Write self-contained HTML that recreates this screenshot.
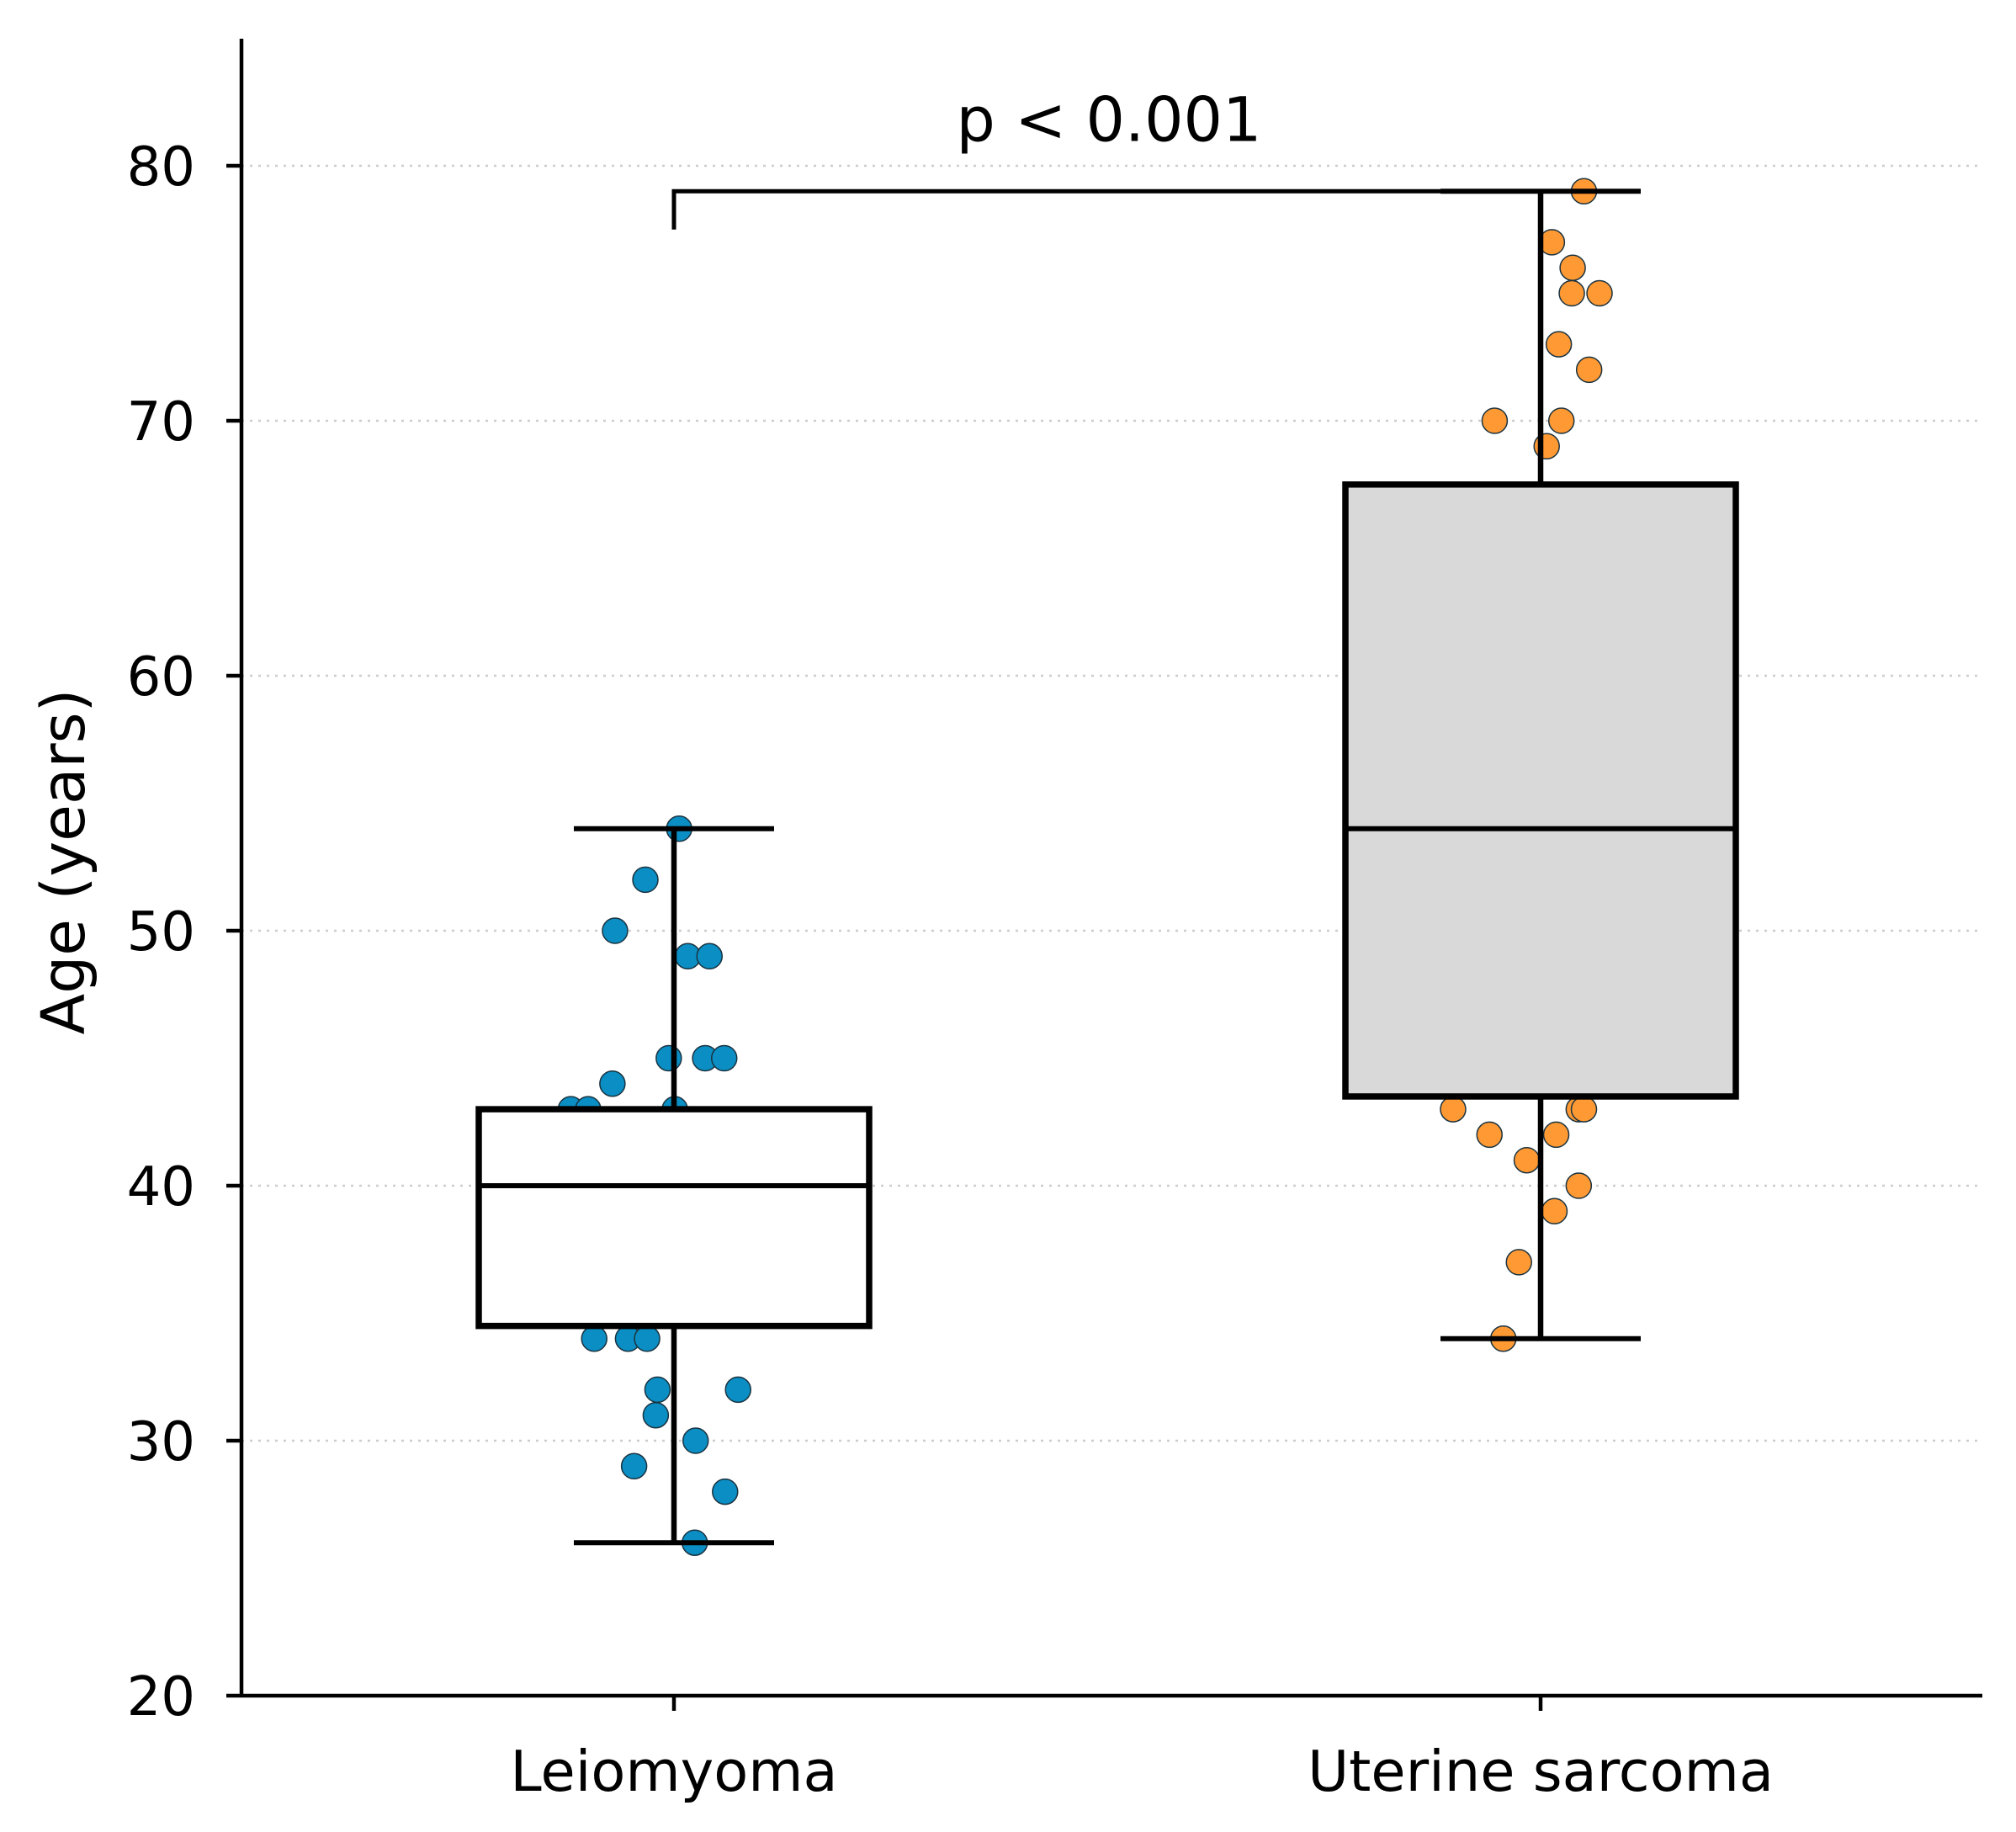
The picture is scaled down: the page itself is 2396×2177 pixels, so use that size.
<!DOCTYPE html>
<html><head><meta charset="utf-8"><style>
html,body{margin:0;padding:0;background:#fff;}
svg{display:block;font-family:"DejaVu Sans","Liberation Sans",sans-serif;}
</style></head><body>
<svg id="chart" width="2396" height="2177" viewBox="0 0 2396 2177" xmlns="http://www.w3.org/2000/svg"></svg>
<script>
const categories = ["Leiomyoma", "Uterine sarcoma"];
const yTicks = [20, 30, 40, 50, 60, 70, 80];
const gridValues = [30, 40, 50, 60, 70, 80];
const boxQ1 = [34.5, 43.5];
const boxMedian = [40, 54];
const boxQ3 = [43, 67.5];
const whiskerLow = [26, 34];
const whiskerHigh = [54, 79];
const leioValues = [54,52,50,49,49,45,45,45,44,43,43,43,34,34,34,32,32,31,30,29,28,26,36,38,40,41,42,39];
const leioJitter = [0.006,-0.033,-0.068,0.016,0.041,-0.006,0.036,0.058,-0.071,-0.119,-0.099,0.001,-0.092,-0.053,-0.031,-0.019,0.074,-0.021,0.025,-0.046,0.059,0.024,0.03,-0.05,0.06,-0.02,0.04,0.0];
const sarcValues = [79,77,76,75,75,73,72,70,70,69,43,43,43,42,42,41,40,39,37,34,50,55,60,65,48];
const sarcJitter = [0.05,0.013,0.037,0.036,0.068,0.021,0.056,-0.053,0.024,0.007,-0.101,0.044,0.05,-0.059,0.018,-0.016,0.044,0.016,-0.025,-0.043,0.02,-0.03,0.05,0.0,-0.06];
const pLabel = "p < 0.001";
const bracketY = 79, bracketLegY = 77.5;

const NS = "http://www.w3.org/2000/svg";
const svg = document.getElementById('chart');
const X0 = 287, X1 = 2356, Y20 = 2015, Y80 = 197, YTOP = 46;
const yMin = 20, yMax = 80;
function y(v){ return Y20 + (v - yMin) * (Y80 - Y20) / (yMax - yMin); }
const catCenter0 = 801, catStep = 1030;
function x(i){ return catCenter0 + i * catStep; }
const boxHalf = 232, capHalf = 119, dotR = 15;

function mk(tag, attrs, parent){
  const e = document.createElementNS(NS, tag);
  for (const k in attrs) e.setAttribute(k, attrs[k]);
  (parent || svg).appendChild(e);
  return e;
}

gridValues.forEach(v => {
  const l = mk('line', {x1:X0, x2:X1, y1:y(v), y2:y(v), stroke:'#cccccc', 'stroke-width':2.5, 'stroke-dasharray':'3 7'});
  
  
});

function dots(vals, jit, ci, fill, name){
  const g = mk('g', {});
  
  
  vals.forEach((v, k) => {
    const c = mk('circle', {cx: x(ci) + jit[k] * catStep, cy: y(v), r: dotR, fill: fill, stroke: '#1a3340', 'stroke-width': 1.5}, g);
    
    
  });
}
dots(leioValues, leioJitter, 0, '#0a8ec3', 'leiomyoma-points');
dots(sarcValues, sarcJitter, 1, '#ff9933', 'sarcoma-points');

categories.forEach((c, i) => {
  const g = mk('g', {});
  
  
  const cx = x(i);
  mk('line', {x1:cx, x2:cx, y1:y(whiskerLow[i]), y2:y(boxQ1[i]), stroke:'#000', 'stroke-width':6.5}, g);
  mk('line', {x1:cx, x2:cx, y1:y(boxQ3[i]), y2:y(whiskerHigh[i]), stroke:'#000', 'stroke-width':6.5}, g);
  mk('line', {x1:cx-capHalf, x2:cx+capHalf, y1:y(whiskerLow[i]), y2:y(whiskerLow[i]), stroke:'#000', 'stroke-width':6}, g);
  mk('line', {x1:cx-capHalf, x2:cx+capHalf, y1:y(whiskerHigh[i]), y2:y(whiskerHigh[i]), stroke:'#000', 'stroke-width':6}, g);
  mk('rect', {x:cx-boxHalf, y:y(boxQ3[i]), width:2*boxHalf, height:y(boxQ1[i])-y(boxQ3[i]), fill: i===0?'#ffffff':'#d9d9d9', stroke:'#000', 'stroke-width':7.5}, g);
  mk('line', {x1:cx-boxHalf, x2:cx+boxHalf, y1:y(boxMedian[i]), y2:y(boxMedian[i]), stroke:'#000', 'stroke-width':6}, g);
});

const br = mk('path', {d:`M${x(0)},${y(bracketLegY)} L${x(0)},${y(bracketY)} L${x(1)+capHalf},${y(bracketY)}`, fill:'none', stroke:'#000', 'stroke-width':5});


const pt = mk('text', {x:(x(0)+x(1))/2+2, y:y(bracketY)-60, 'font-size':73, 'text-anchor':'middle', fill:'#000'});
pt.textContent = pLabel;



const ya = mk('line', {x1:X0, x2:X0, y1:YTOP, y2:Y20, stroke:'#000', 'stroke-width':4.5});


const xa = mk('line', {x1:X0, x2:X1, y1:Y20, y2:Y20, stroke:'#000', 'stroke-width':4.5});



yTicks.forEach(v => {
  const t = mk('line', {x1:X0-18, x2:X0, y1:y(v), y2:y(v), stroke:'#000', 'stroke-width':4.5});
  
  
  const lb = mk('text', {x:X0-55, y:y(v)+23, 'font-size':64, 'text-anchor':'end', fill:'#000'});
  lb.textContent = v;
  
  
});
categories.forEach((c, i) => {
  const t = mk('line', {x1:x(i), x2:x(i), y1:Y20, y2:Y20+18, stroke:'#000', 'stroke-width':4.5});
  
  
  const lb = mk('text', {x:x(i), y:2128, 'font-size':67, 'text-anchor':'middle', fill:'#000'});
  lb.textContent = c;
  
  
});
const yt = mk('text', {x:0, y:0, 'font-size':71, 'text-anchor':'middle', fill:'#000', transform:`translate(100,${y(50)-82}) rotate(-90)`});
yt.textContent = 'Age (years)';


</script>
</body></html>
